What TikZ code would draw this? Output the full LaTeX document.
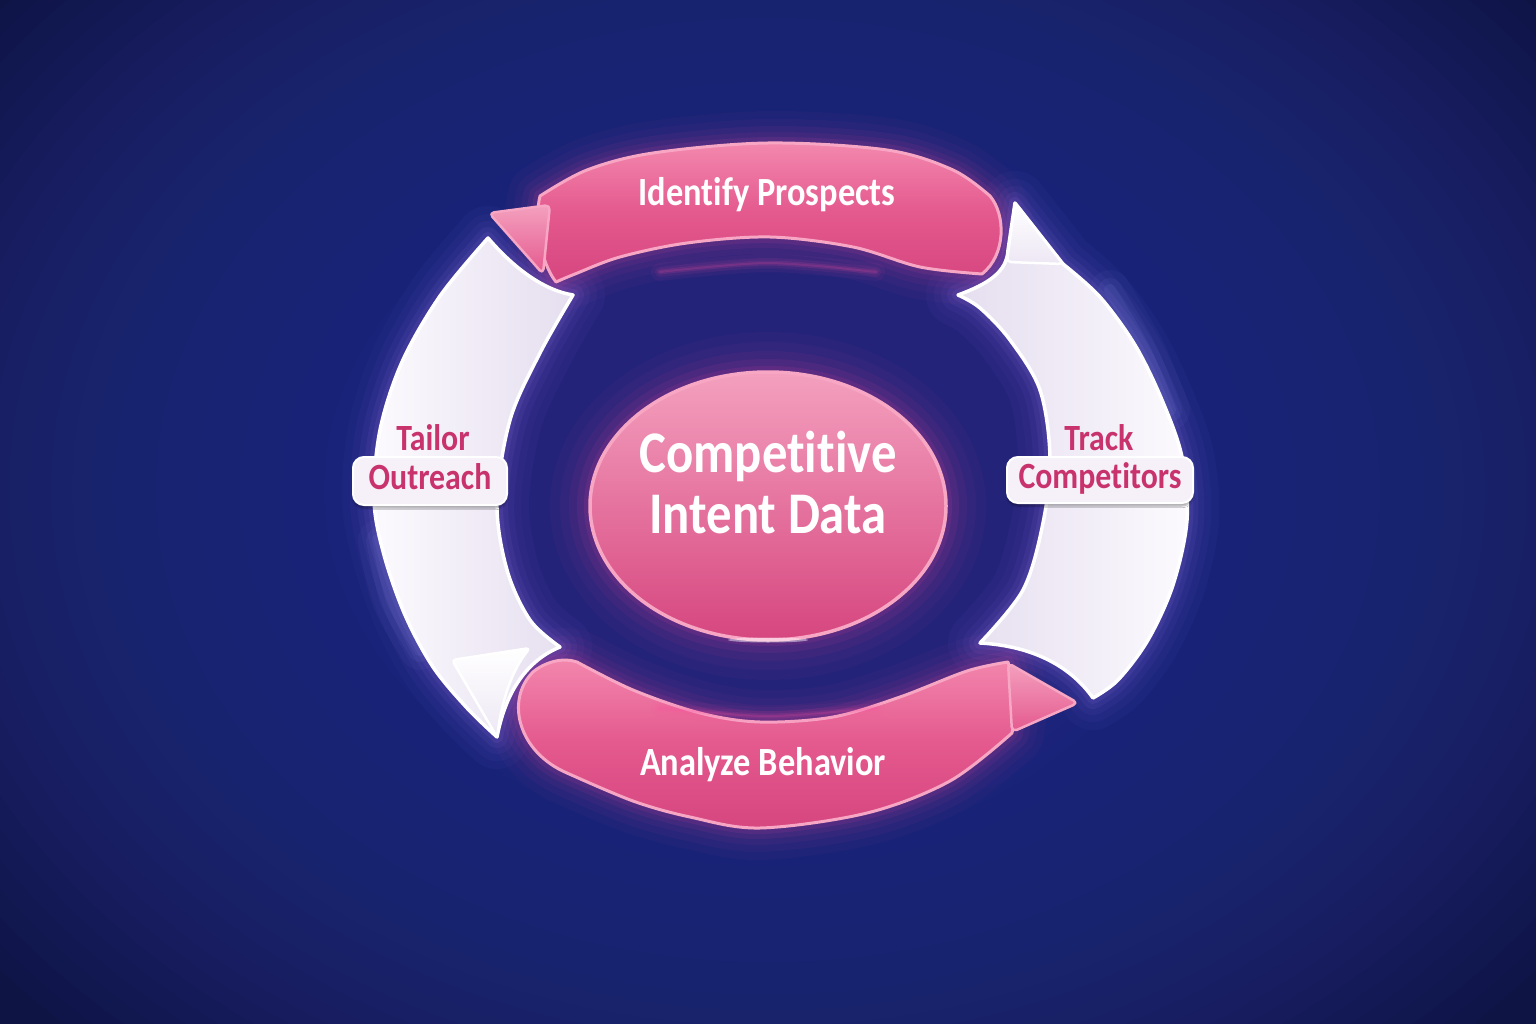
\documentclass[tikz,border=0pt]{standalone}
\usepackage{fontspec}
\newfontfamily\lbl{Carlito}[FakeStretch=0.86, Ligatures=CommonOff]
\usetikzlibrary{shadows.blur}
\definecolor{bgout}{HTML}{0E1444}
\definecolor{bgmid}{HTML}{2A3592}
\definecolor{bgin}{HTML}{3E2585}
\definecolor{pinkA}{HTML}{F388AE}
\definecolor{pinkB}{HTML}{E4598E}
\definecolor{pinkC}{HTML}{D6467F}
\definecolor{pinkEdge}{HTML}{F7A6C4}
\definecolor{pinkHi}{HTML}{F4A0BE}
\definecolor{whiteA}{HTML}{FCFAFE}
\definecolor{whiteB}{HTML}{E5DEEF}
\definecolor{whiteC}{HTML}{EDE7F4}
\definecolor{boxfill}{HTML}{F6F1F9}
\definecolor{lblpink}{HTML}{C8336E}
\definecolor{glowpink}{HTML}{FF4FA0}
\definecolor{glowlav}{HTML}{B58BFF}
\definecolor{glowblue}{HTML}{9FB0FF}
\newcommand\glowit[2]{\foreach \gw/\go in {64/0.03,48/0.04,34/0.05,22/0.07,12/0.09}{\draw[line width=\gw, draw=#1, draw opacity=\go, line join=round] #2;}}
\def\pathTop{(540,196) -- plot[smooth,tension=0.55] coordinates {(540,196) (587,170) (653,153) (768,143) (887,150) (953,170) (990,196)} .. controls (1006,215) and (1006,255) .. (982,274) -- plot[smooth,tension=0.55] coordinates {(982,274) (920,267) (853,247) (770,237) (687,243) (620,257) (575,274) (556,282)} .. controls (540,262) and (534,220) .. (540,196) -- cycle}
\def\pathTopHead{(489,213) -- (550,205) -- (543,274) -- cycle}
\def\pathLeft{(488,238) .. controls (512,266) and (542,290) .. (573,295) -- plot[smooth,tension=0.55] coordinates {(573,295) (540,353) (510,420) (497,503) (507,570) (530,620) (560,647)} .. controls (528,660) and (506,690) .. (497,737) -- plot[smooth,tension=0.55] coordinates {(497,737) (467,708) (433,667) (405,615) (384,555) (374,500) (380,430) (402,362) (440,296) (488,238)} -- cycle}
\def\pathLeftHead{(452,660) -- (530,648) .. controls (512,670) and (502,700) .. (497,737) -- cycle}
\def\pathRight{(1015,203) -- (1063,264) -- plot[smooth,tension=0.55] coordinates {(1063,264) (1100,297) (1135,345) (1162,400) (1182,457) (1187,520) (1173,585) (1148,640) (1118,680) (1093,698)} .. controls (1072,668) and (1035,646) .. (980,643) -- plot[smooth,tension=0.55] coordinates {(980,643) (1023,590) (1043,523) (1050,457) (1040,390) (1010,340) (980,308) (958,295)} .. controls (988,284) and (1007,272) .. (1008,250) -- cycle}
\def\pathRightHead{(1015,203) -- (1063,264) -- (1007,262) -- cycle}
\def\pathBottom{(577,662) -- plot[smooth,tension=0.55] coordinates {(577,662) (633,690) (700,713) (760,722) (833,717) (900,697) (967,671) (1008,662)} .. controls (1016,690) and (1016,715) .. (1012,733) -- plot[smooth,tension=0.55] coordinates {(1012,733) (950,781) (867,813) (760,828) (690,817) (633,801) (567,773)} .. controls (518,752) and (505,700) .. (533,672) .. controls (545,662) and (563,657) .. (577,662) -- cycle}
\def\pathBottomHead{(1008,663) -- (1078,703) -- (1012,732) -- cycle}
\begin{document}
\begin{tikzpicture}[x=1pt,y=-1pt,
  pinkband/.style={top color=pinkA, bottom color=pinkC, middle color=pinkB, draw=pinkEdge, line width=3, line join=round},
  pinkhead/.style={top color=pinkHi, bottom color=pinkB, draw=pinkEdge, line width=2.5, rounded corners=5, line join=round},
  whitehead/.style={top color=white, bottom color=whiteC, draw=white, line width=2.5, rounded corners=4, line join=round},
  steptext/.style={text=white, font=\lbl\bfseries},
  sidetext/.style={text=lblpink, font=\lbl\bfseries\fontsize{37}{40}\selectfont, inner sep=0},
  lblbox/.style={sidetext, fill=boxfill, draw=white, line width=2, rounded corners=11, text height=24, text depth=7,
     blur shadow={shadow blur steps=6, shadow xshift=0pt, shadow yshift=-3pt, shadow opacity=35}}
]
\useasboundingbox (0,0) rectangle (1536,1024);
\clip (0,0) rectangle (1536,1024);
% background
\fill[bgout] (0,0) rectangle (1536,1024);
\foreach \i in {0,...,27}
  {\fill[bgmid, fill opacity=0.055] (768,490) ellipse [x radius={990-\i*21}, y radius={760-\i*16}];}
\foreach \i in {0,...,11}
  {\fill[bgin, fill opacity=0.05] (768,490) ellipse [x radius={430-\i*12}, y radius={360-\i*10}];}
% glows
\glowit{glowlav}{\pathLeft}
\glowit{glowlav}{\pathRight}
\foreach \gw/\go in {40/0.04,24/0.06,12/0.08}{
  \draw[glowblue, line width=\gw, draw opacity=\go, line cap=round] plot[smooth] coordinates {(378,540) (392,600) (420,650)};
  \draw[glowblue, line width=\gw, draw opacity=\go, line cap=round] plot[smooth] coordinates {(1110,290) (1145,350) (1170,410)};}
\glowit{glowpink}{\pathTop}
\glowit{glowpink}{\pathBottom}
% white bands
\shade[left color=whiteA, right color=whiteB, draw=white, line width=3.5, line join=round] \pathLeft;
\shade[whitehead] \pathLeftHead;
\shade[left color=whiteB, right color=whiteA, draw=white, line width=3.5, line join=round] \pathRight;
\shade[whitehead] \pathRightHead;
% pink bands
\shade[pinkband] \pathTop;
\shade[pinkhead] \pathTopHead;
\shade[pinkband] \pathBottom;
\shade[pinkhead] \pathBottomHead;
% reflection glints
\foreach \gw/\go in {18/0.05,10/0.08,5/0.12,2/0.16}{
  \draw[glowpink, line width=\gw, draw opacity=\go, line cap=round] plot[smooth] coordinates {(660,272) (768,263) (876,272)};
  \draw[glowpink, line width=\gw, draw opacity=\go, line cap=round] plot[smooth] coordinates {(660,708) (768,716) (876,708)};}
% central ellipse
\foreach \gw/\go in {80/0.03,60/0.04,42/0.055,26/0.075,12/0.1}{\draw[glowpink, line width=\gw, draw opacity=\go] (768,506) ellipse [x radius=178, y radius=134];}
\shade[top color=pinkHi, middle color=pinkB, bottom color=pinkC, draw=pinkEdge, line width=3.5] (768,506) ellipse [x radius=178, y radius=134];
\fill[white, opacity=0.45] (768,640) ellipse [x radius=40, y radius=2.5];
\node[steptext, align=center, font=\lbl\bfseries\fontsize{59}{61}\selectfont] (core) at (768,483) {Competitive\\Intent Data};
% step labels
\node[steptext, font=\lbl\bfseries\fontsize{40}{42}\selectfont, anchor=base] (identify) at (767,206) {Identify Prospects};
\node[steptext, font=\lbl\bfseries\fontsize{40}{42}\selectfont, anchor=base] (analyze) at (763,775) {Analyze Behavior};
\node[sidetext, anchor=base] (tailor) at (433,450) {Tailor};
\node[lblbox, minimum width=154, minimum height=48] (outreach) at (430,481) {Outreach};
\node[sidetext, anchor=base] (track) at (1099,450) {Track};
\node[lblbox, minimum width=186, minimum height=46] (competitors) at (1100,480) {Competitors};
\end{tikzpicture}
\end{document}
